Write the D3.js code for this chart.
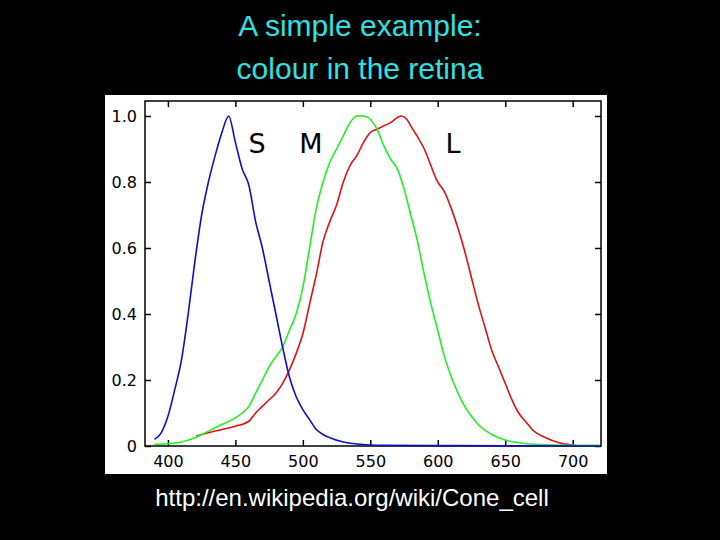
<!DOCTYPE html><html><head><meta charset="utf-8">
<script src="https://cdn.jsdelivr.net/npm/d3@7"></script>
<style>body{margin:0;background:#000}</style></head><body><svg id="c" width="720" height="540"></svg>
<script>
const xTicks=[400,450,500,550,600,650,700];
const yTicks=[0,0.2,0.4,0.6,0.8,1.0];
const sCone=[[390,0.02],[395,0.04],[400,0.09],[405,0.17],[410,0.26],[415,0.4],[420,0.56],[425,0.7],[430,0.8],[435,0.88],[440,0.95],[445,1.0],[450,0.92],[455,0.84],[460,0.79],[465,0.68],[470,0.6],[475,0.5],[480,0.4],[485,0.3],[490,0.21],[495,0.15],[500,0.11],[505,0.08],[510,0.05],[515,0.035],[520,0.025],[530,0.012],[540,0.006],[560,0.002],[600,0.001],[720,0]];
const mCone=[[390,0.005],[400,0.007],[410,0.012],[420,0.025],[430,0.045],[440,0.065],[450,0.085],[455,0.1],[460,0.12],[465,0.16],[470,0.2],[475,0.24],[480,0.27],[485,0.3],[490,0.35],[495,0.4],[500,0.48],[505,0.6],[510,0.72],[515,0.8],[520,0.86],[525,0.9],[530,0.94],[535,0.98],[540,1.0],[545,1.0],[550,0.99],[555,0.96],[560,0.91],[565,0.87],[570,0.84],[575,0.78],[580,0.70],[585,0.62],[590,0.52],[595,0.43],[600,0.35],[605,0.27],[610,0.21],[615,0.16],[620,0.12],[625,0.09],[630,0.065],[640,0.035],[650,0.018],[660,0.01],[680,0.004],[720,0.002]];
const lCone=[[421,0.03],[430,0.04],[440,0.05],[450,0.06],[460,0.075],[465,0.1],[470,0.12],[475,0.14],[480,0.16],[485,0.19],[490,0.23],[495,0.28],[500,0.34],[505,0.43],[510,0.52],[515,0.62],[520,0.68],[525,0.73],[530,0.8],[535,0.85],[540,0.88],[545,0.92],[550,0.95],[555,0.96],[560,0.97],[565,0.98],[570,0.995],[573,1.0],[577,0.99],[580,0.97],[590,0.9],[600,0.8],[605,0.77],[610,0.72],[615,0.66],[620,0.59],[625,0.51],[630,0.43],[635,0.36],[640,0.29],[645,0.24],[650,0.19],[655,0.14],[660,0.1],[665,0.075],[670,0.05],[680,0.025],[690,0.01],[700,0.003],[705,0]];
const svg=d3.select("#c");
svg.append("rect").attr("width",720).attr("height",540).attr("fill","#000");
svg.append("text").attr("x",360).attr("y",36).attr("text-anchor","middle").attr("fill","#33e0e0").attr("font-family","Liberation Sans").attr("font-size",30).text("A simple example:");
svg.append("text").attr("x",360).attr("y",79).attr("text-anchor","middle").attr("fill","#33e0e0").attr("font-family","Liberation Sans").attr("font-size",30).text("colour in the retina");
svg.append("rect").attr("x",105).attr("y",95).attr("width",502).attr("height",379).attr("fill","#fff");
const x=d3.scaleLinear().domain([383,721]).range([145,601]);
const y=d3.scaleLinear().domain([0,1]).range([446,116]);
const plotTop=101;
const g=svg.append("g").attr("font-family","DejaVu Sans");
g.append("rect").attr("x",145).attr("y",plotTop).attr("width",456).attr("height",446-plotTop).attr("fill","none").attr("stroke","#000").attr("stroke-width",1.5);
g.append("g").attr("transform","translate(0,446)").call(d3.axisBottom(x).tickValues(xTicks).tickSize(-6).tickPadding(10));
g.append("g").attr("transform","translate(145,0)").call(d3.axisLeft(y).tickValues(yTicks).tickSize(-6).tickPadding(8).tickFormat(d=>d===0?"0":d.toFixed(1)));
g.append("g").attr("transform","translate(0,"+plotTop+")").call(d3.axisTop(x).tickValues(xTicks).tickSize(-6).tickFormat(""));
g.append("g").attr("transform","translate(601,0)").call(d3.axisRight(y).tickValues(yTicks).tickSize(-6).tickFormat(""));
g.selectAll(".domain").remove();
g.selectAll(".tick line").attr("stroke","#000").attr("stroke-width",1.5);
g.selectAll(".tick text").attr("font-size",16).attr("fill","#000").attr("font-family","DejaVu Sans");
const line=d3.line().x(d=>x(d[0])).y(d=>y(d[1])).curve(d3.curveMonotoneX);
[[lCone,"#dd1111"],[mCone,"#22ee22"],[sCone,"#1111bb"]].forEach(([d,c])=>g.append("path").datum(d).attr("d",line).attr("fill","none").attr("stroke",c).attr("stroke-width",1.6));
[["S",257],["M",311],["L",453]].forEach(([t,px])=>g.append("text").attr("x",px).attr("y",153).attr("text-anchor","middle").attr("font-size",27).attr("fill","#000").text(t));
svg.append("text").attr("x",352).attr("y",506).attr("text-anchor","middle").attr("fill","#fff").attr("font-family","Liberation Sans").attr("font-size",24).text("http://en.wikipedia.org/wiki/Cone_cell");
</script></body></html>
